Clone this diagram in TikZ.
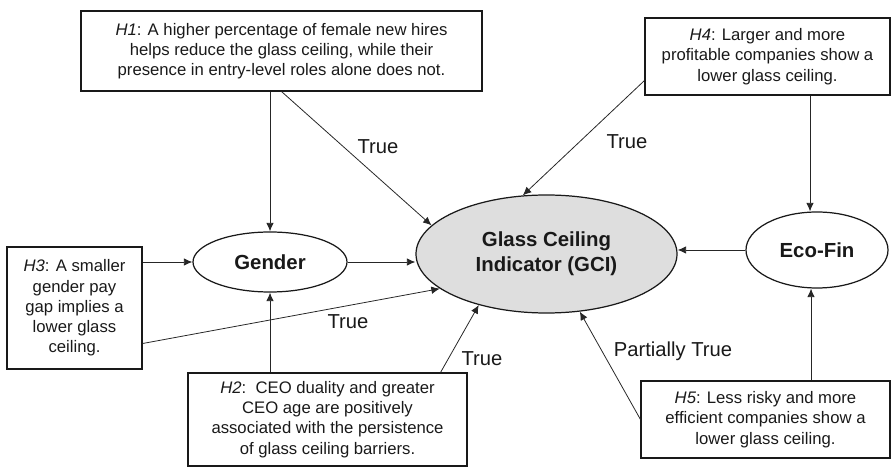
\documentclass[tikz,border=0pt]{standalone}
\usepackage{fontspec}
\setmainfont{Liberation Sans}
\usetikzlibrary{arrows.meta,shapes.geometric}

\begin{document}
\begin{tikzpicture}[
  hyp/.style={
    draw=black!90, line width=0.6pt, align=center, inner sep=1pt,
    minimum width=#1, font=\fontsize{9.5}{11.5}\selectfont, text=black!90
  },
  var/.style={
    ellipse, draw=black!90, line width=0.7pt, align=center, inner sep=0pt,
    font=\fontsize{11.6}{14.2}\selectfont\bfseries, text=black!90
  },
  lbl/.style={
    inner sep=0pt, font=\fontsize{11.5}{13.8}\selectfont, text=black!90
  },
  arr/.style={
    -{Latex[length=1.7mm,width=1.5mm]}, line width=0.45pt, draw=black!85
  }
]
\useasboundingbox (0,0) rectangle (17.84,-9.36);

% Hypothesis boxes
\node[hyp=8.02cm, minimum height=1.6cm] (h1) at (5.63,-1.02)
  {\textit{H1}: A higher percentage of female new hires\\ helps reduce the glass ceiling, while their\\ presence in entry-level roles alone does not.};
\node[hyp=4.9cm, minimum height=1.54cm] (h4) at (15.35,-1.13)
  {\textit{H4}: Larger and more\\ profitable companies show a\\ lower glass ceiling.};
\node[hyp=2.7cm, minimum height=2.44cm] (h3) at (1.49,-6.16)
  {\textit{H3}: A smaller\\ gender pay\\ gap implies a\\ lower glass\\ ceiling.};
\node[hyp=5.58cm, minimum height=1.86cm] (h2) at (6.55,-8.39)
  {\textit{H2}:\ \ CEO duality and greater\\ CEO age are positively\\ associated with the persistence\\ of glass ceiling barriers.};
\node[hyp=4.98cm, minimum height=1.54cm] (h5) at (15.31,-8.39)
  {\textit{H5}: Less risky and more\\ efficient companies show a\\ lower glass ceiling.};

% Variables
\node[var, minimum width=3.08cm, minimum height=1.2cm] (gender) at (5.4,-5.24) {Gender};
\node[var, fill=black!13, minimum width=5.22cm, minimum height=2.36cm] (gci) at (10.93,-5.08)
  {Glass Ceiling\\ Indicator (GCI)};
\node[var, minimum width=2.84cm, minimum height=1.52cm] (ecofin) at (16.34,-5.0) {Eco-Fin};

% Arrows into the variables
\draw[arr] (h1.south -| gender.north) -- (gender.north);
\draw[arr] (h3.east |- gender.west) -- (gender.west);
\draw[arr] (gender.south |- h2.north) -- (gender.south);
\draw[arr] ([xshift=-1.4mm]ecofin.north |- h4.south) -- ([xshift=-1.4mm]ecofin.north);
\draw[arr] ([xshift=-1.2mm]ecofin.south |- h5.north) -- ([xshift=-1.2mm]ecofin.south);

% Arrows into GCI
\draw[arr] (gender.east) -- (gender.east -| gci.west);
\draw[arr] (ecofin.west) -- (ecofin.west -| gci.east);
\draw[arr] (h1.south) -- (gci.166);
\draw[arr] ([yshift=3mm]h4.south west) -- (gci.112);
\draw[arr] ([yshift=5.2mm]h3.south east) -- (gci.198);
\draw[arr] ([xshift=-5.4mm]h2.north east) -- (gci.217.5);
\draw[arr] (h5.west) -- (gci.300);

% Results
\node[lbl] (r1) at (7.56,-2.94) {True};
\node[lbl] (r4) at (12.54,-2.84) {True};
\node[lbl] (r3) at (6.96,-6.44) {True};
\node[lbl] (r2) at (9.64,-7.18) {True};
\node[lbl] (r5) at (13.46,-7.02) {Partially True};

\end{tikzpicture}
\end{document}
